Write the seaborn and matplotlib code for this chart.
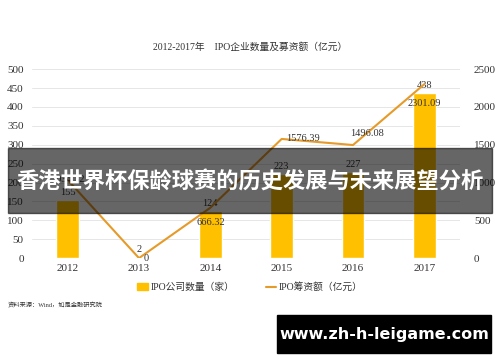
import numpy as np
import pandas as pd
import seaborn as sns
import matplotlib.pyplot as plt
from matplotlib.patches import Rectangle

# data
years = ['2012', '2013', '2014', '2015', '2016', '2017']
ipo_count = [155, 2, 124, 223, 227, 438]
ipo_amount = [1034.32, 0, 666.32, 1576.39, 1496.08, 2301.09]
left_ticks = [0, 50, 100, 150, 200, 250, 300, 350, 400, 450, 500]
right_ticks = [0, 500, 1000, 1500, 2000, 2500]

sns.set_theme(style='white')
plt.rcParams['font.family'] = ['Liberation Serif', 'Noto Sans CJK SC', 'DejaVu Sans']

bar_color = '#FFC000'
line_color = '#E69A28'
txt = '#333333'

df = pd.DataFrame({'year': years, 'count': ipo_count, 'amount': ipo_amount})

fig = plt.figure(figsize=(5, 3.62), dpi=100)
ax = fig.add_axes([0.064, 0.287, 0.856, 0.522])

sns.barplot(data=df, x='year', y='count', color=bar_color, width=0.32,
            saturation=1, ax=ax, zorder=2)
ax.set_ylim(0, 500)
ax.set_yticks(left_ticks)
ax.set_xlim(-0.5, 5.5)
ax.set_xlabel('')
ax.set_ylabel('')
ax.grid(axis='y', color='#e6e6e6', lw=0.7, zorder=0)
for s in ax.spines.values():
    s.set_visible(False)
ax.tick_params(axis='both', length=0, labelsize=8, colors=txt, pad=4)
ax.tick_params(axis='y', pad=6)

ax2 = ax.twinx()
sns.lineplot(x=np.arange(len(years)), y=ipo_amount, color=line_color, lw=1.5,
             ax=ax2, zorder=3)
ax2.set_ylim(0, 2500)
ax2.set_yticks(right_ticks)
ax2.tick_params(axis='y', length=0, labelsize=8, colors=txt, pad=10)
for s in ax2.spines.values():
    s.set_visible(False)

# bar labels
for i, v in enumerate(ipo_count):
    ax.text(i, v + 8, str(v), ha='center', va='bottom', fontsize=7.5, color=txt, zorder=5)

# line labels (x shift, y shift in right-axis units)
offsets = [(0, 0), (0.1, -10), (0, -200), (0.3, 0), (0.2, 150), (0, -250)]
for i, v in enumerate(ipo_amount):
    dx, dy = offsets[i]
    lab = '0' if v == 0 else f'{v:.2f}'
    ax2.text(i + dx, v + dy, lab, ha='center', va='center', fontsize=7.5, color=txt, zorder=5)

fig.text(0.5, 1 - 47 / 362, '2012-2017年    IPO企业数量及募资额（亿元）', ha='center',
         va='center', fontsize=7, color=txt)

# legend
handles = [Rectangle((0, 0), 1, 1, color=bar_color),
           plt.Line2D([0], [0], color=line_color, lw=1.5)]
fig.legend(handles, ['IPO公司数量（家）', 'IPO筹资额（亿元）'], loc='center',
           bbox_to_anchor=(0.5, 1 - 287 / 362), ncol=2, frameon=False, fontsize=7,
           handlelength=1.1, handleheight=0.6, columnspacing=3.2, handletextpad=0.3,
           labelcolor=txt)

fig.text(0.016, 1 - 305 / 362, '资料来源：Wind，如是金融研究院', fontsize=4.5,
         color=txt, va='center')

# overlay banner
fig.patches.append(Rectangle((8 / 500, 1 - 213 / 362), 484 / 500, 65 / 362,
                             transform=fig.transFigure, color='black', alpha=0.6,
                             zorder=10))
fig.text(0.5, 1 - 182 / 362, '香港世界杯保龄球赛的历史发展与未来展望分析', ha='center',
         va='center', fontsize=16, color='white', fontweight='bold',
         family=['Noto Sans CJK SC', 'DejaVu Sans'], zorder=11)

# watermark box
fig.patches.append(Rectangle((277 / 500, 1 - 353 / 362), 214 / 500, 38 / 362,
                             transform=fig.transFigure, color='black', zorder=10))
fig.text(384 / 500, 1 - 334 / 362, 'www.zh-h-leigame.com', ha='center', va='center',
         fontsize=11.5, color='white', fontweight='bold',
         family=['DejaVu Sans'], zorder=11)

fig.savefig('out.png', dpi=100, facecolor='white')
